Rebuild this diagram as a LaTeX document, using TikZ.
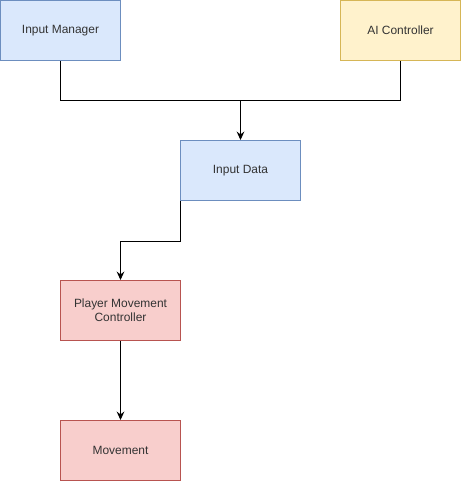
\documentclass[tikz,border=0pt]{standalone}
\usepackage{fontspec}
\setmainfont{Liberation Sans}
\usetikzlibrary{arrows.meta}

\definecolor{bluefill}{HTML}{DAE8FC}
\definecolor{blueline}{HTML}{6C8EBF}
\definecolor{yellowfill}{HTML}{FFF2CC}
\definecolor{yellowline}{HTML}{D6B656}
\definecolor{redfill}{HTML}{F8CECC}
\definecolor{redline}{HTML}{B85450}

\tikzset{
    block/.style={draw, line width=0.7pt, minimum width=3cm, minimum height=1.5cm,
        inner sep=0pt, align=center, text=black!80,
        font=\fontsize{8.5}{10}\selectfont},
    bluebox/.style={block, fill=bluefill, draw=blueline},
    yellowbox/.style={block, fill=yellowfill, draw=yellowline},
    redbox/.style={block, fill=redfill, draw=redline},
    link/.style={line width=0.7pt},
    arrowlink/.style={link, -{Stealth[length=6pt, width=5.5pt, inset=2pt]}}
}

\begin{document}
\begin{tikzpicture}[x=0.025cm, y=-0.025cm]
    \useasboundingbox (0,0) rectangle (461,481);

    % Boxes
    \node[bluebox] (manager) at (60.5,30.5) {Input Manager};
    \node[yellowbox] (ai) at (400.5,30.5) {AI Controller};
    \node[bluebox] (data) at (240.5,170.5) {Input Data};
    \node[redbox] (pmc) at (120.5,310.5) {Player Movement\\Controller};
    \node[redbox] (movement) at (120.5,450.5) {Movement};

    \coordinate (join) at (240.5,100.5);

    % Connections
    \draw[link] (manager.south) |- (join);
    \draw[link] (ai.south) |- (join);
    \draw[arrowlink] (join) -- (data.north);
    \draw[arrowlink] (data.south west) -- ++(0,40) -| (pmc.north);
    \draw[arrowlink] (pmc.south) -- (movement.north);

\end{tikzpicture}
\end{document}
